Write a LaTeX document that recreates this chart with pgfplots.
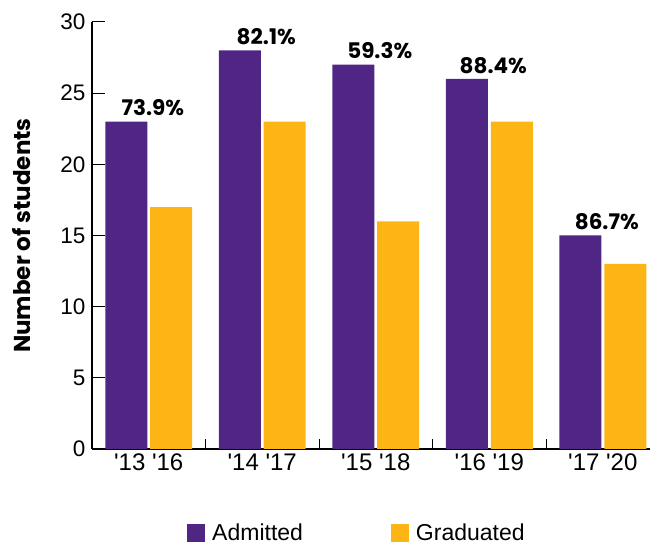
\documentclass[border=0pt]{standalone}
\usepackage{pgfplots}
\pgfplotsset{compat=1.18}
\usepackage{fontspec}
\setmainfont{Liberation Sans}
\newfontfamily\pop{Poppins}
\definecolor{adm}{HTML}{4F2683}
\definecolor{grad}{HTML}{FDB515}
\pgfplotstableread{
x adm grad pct
0 23 17 73.9
1 28 23 82.1
2 27 16 59.3
3 26 23 88.4
4 15 13 86.7
}\data
\begin{document}
\begin{tikzpicture}
\useasboundingbox (0,0) rectangle (657bp,545bp);
\begin{axis}[
  at={(92bp,96bp)}, anchor=south west,
  scale only axis, width=558bp, height=427bp,
  xmin=-0.5, xmax=4.416, ymin=0, ymax=30,
  /pgf/number format/assume math mode=true,
  axis lines*=left,
  axis line style={line width=1.2bp, black},
  tick align=inside,
  major tick length=13bp, minor tick length=10bp,
  tick style={line width=1bp, black},
  ytick={0,5,...,30},
  xtick={0,1,2,3,4},
  xticklabels={\textquotesingle13 \textquotesingle16,\textquotesingle14 \textquotesingle17,\textquotesingle15 \textquotesingle18,\textquotesingle16 \textquotesingle19,\textquotesingle17 \textquotesingle20},
  minor xtick={0.5,1.5,2.5,3.5},
  major x tick style={draw=none},
  yticklabel style={xshift=-3bp, font=\fontsize{22.5bp}{26bp}\selectfont},
  xticklabel style={yshift=-1bp, font=\fontsize{24bp}{28bp}\selectfont},
  ylabel={Number of students},
  ylabel style={at={(axis description cs:-0.1254,0.5)}, anchor=center, font=\fontsize{23bp}{27bp}\selectfont\pop\bfseries},
  legend columns=2,
  legend style={draw=none, fill=none, at={(0.165,-0.196)}, anchor=west,
    font=\fontsize{23bp}{27bp}\selectfont,
    /tikz/every odd column/.append style={column sep=5bp},
    /tikz/every even column/.append style={column sep=86bp}},
  legend image code/.code={\fill[#1] (0bp,-9bp) rectangle (18bp,9bp);},
]
\addplot[ybar, fill=adm, draw=none, bar width=0.37, bar shift=-0.198,
  point meta=explicit symbolic,
  nodes near coords={\pgfplotspointmeta\%},
  every node near coord/.append style={font=\fontsize{21.5bp}{25bp}\selectfont\pop\bfseries, black, anchor=south, xshift=4bp, yshift=2bp}]
  table[x=x, y=adm, meta=pct]{\data};
\addlegendentry{Admitted}
\addplot[ybar, fill=grad, draw=none, bar width=0.37, bar shift=0.198]
  table[x=x, y=grad]{\data};
\addlegendentry{Graduated}
\end{axis}
\end{tikzpicture}
\end{document}
